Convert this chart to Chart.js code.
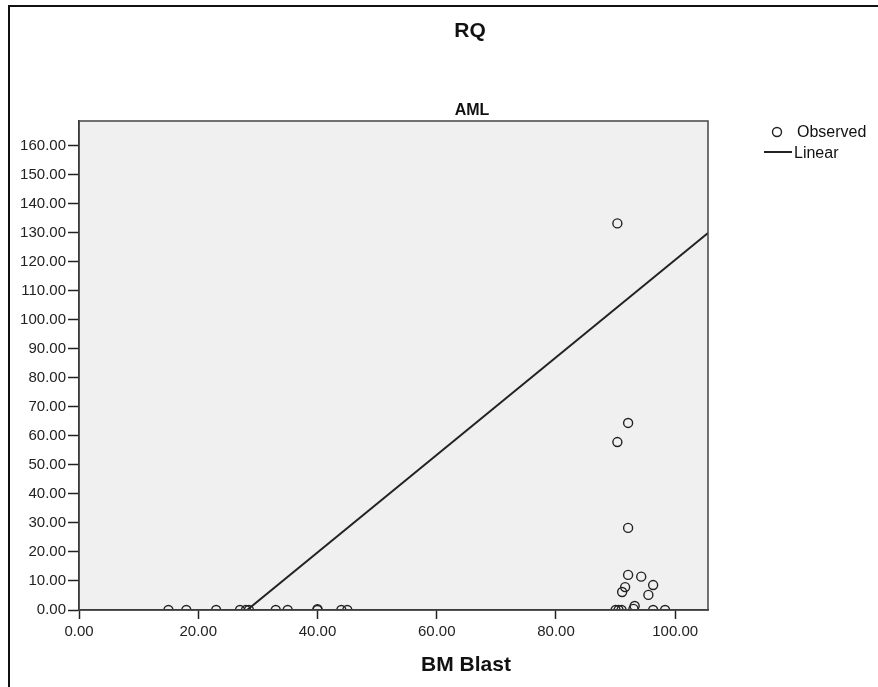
<!DOCTYPE html>
<html>
<head>
<meta charset="utf-8">
<script src="https://cdn.jsdelivr.net/npm/chart.js@4.4.1/dist/chart.umd.min.js"></script>
<style>
  html, body { margin: 0; padding: 0; background: #fff; }
  #wrap { width: 878px; height: 687px; position: relative; }
</style>
</head>
<body>
<div id="wrap"><canvas id="rq"></canvas></div>
<script>
// observed points (BM Blast vs RQ)
const observedX = [15, 18, 23, 27, 28, 28.5, 33, 35, 40, 40, 44, 45,
                   90, 90.5, 91, 93, 93.2, 96.3, 98.3,
                   90.3, 92.1, 90.3, 92.1, 92.1, 94.3, 96.3, 91.6, 91.1, 95.5];
const observedY = [0, 0, 0, 0, 0, 0, 0, 0, 0, 0.3, 0, 0,
                   0, 0, 0, 0.4, 1.4, 0, 0,
                   133.3, 64.5, 57.9, 28.3, 12.1, 11.5, 8.6, 7.9, 6.2, 5.2];
// linear fit, drawn across the visible range
const linearX = [28.2, 105.5];
const linearY = [0, 130];

const xTicks = [0, 20, 40, 60, 80, 100];
const yTicks = [0, 10, 20, 30, 40, 50, 60, 70, 80, 90, 100, 110, 120, 130, 140, 150, 160];

const FONT = "'Liberation Sans', Arial, sans-serif";
const INK = "#222";

const decor = {
  id: "decor",
  beforeDraw(chart) {
    const { ctx, chartArea: a } = chart;
    ctx.save();
    ctx.fillStyle = "#f0f0f0";
    ctx.fillRect(a.left, a.top, a.right - a.left, a.bottom - a.top);
    ctx.restore();
  },
  afterDraw(chart) {
    const { ctx, chartArea: a } = chart;
    ctx.save();
    // outer frame (top + left)
    ctx.strokeStyle = "#111";
    ctx.lineWidth = 2;
    ctx.beginPath();
    ctx.moveTo(9, 687);
    ctx.lineTo(9, 6);
    ctx.lineTo(878, 6);
    ctx.stroke();

    // plot border
    ctx.strokeStyle = "#444";
    ctx.lineWidth = 1.5;
    ctx.strokeRect(a.left, a.top, a.right - a.left, a.bottom - a.top);

    // titles
    ctx.fillStyle = "#111";
    ctx.textAlign = "center";
    ctx.textBaseline = "middle";
    ctx.font = "bold 21px " + FONT;
    ctx.fillText("RQ", 470, 31);
    ctx.font = "bold 16px " + FONT;
    ctx.fillText("AML", 472, 111);
    ctx.font = "bold 21px " + FONT;
    ctx.fillText("BM Blast", 466, 665);

    // legend
    ctx.strokeStyle = INK;
    ctx.lineWidth = 1.4;
    ctx.beginPath();
    ctx.arc(777, 132, 4.5, 0, Math.PI * 2);
    ctx.stroke();
    ctx.lineWidth = 2;
    ctx.beginPath();
    ctx.moveTo(764, 152);
    ctx.lineTo(792, 152);
    ctx.stroke();
    ctx.textAlign = "left";
    ctx.font = "16px " + FONT;
    ctx.fillText("Observed", 797, 133);
    ctx.fillText("Linear", 794, 154);
    ctx.restore();
  }
};

new Chart(document.getElementById("rq"), {
  type: "scatter",
  data: {
    datasets: [
      {
        label: "Observed",
        data: observedX.map((x, i) => ({ x, y: observedY[i] })),
        pointStyle: "circle",
        pointRadius: 4.5,
        pointBorderWidth: 1.4,
        pointBorderColor: INK,
        pointBackgroundColor: "rgba(0,0,0,0)",
        showLine: false,
        clip: 0
      },
      {
        label: "Linear",
        type: "line",
        data: linearX.map((x, i) => ({ x, y: linearY[i] })),
        borderColor: INK,
        borderWidth: 2,
        pointRadius: 0,
        fill: false
      }
    ]
  },
  options: {
    responsive: true,
    maintainAspectRatio: false,
    animation: false,
    layout: { padding: { left: 0, top: 121, right: 170, bottom: 37 } },
    plugins: { legend: { display: false }, tooltip: { enabled: false } },
    scales: {
      x: {
        type: "linear",
        min: 0,
        max: 105.5,
        afterBuildTicks: s => { s.ticks = xTicks.map(v => ({ value: v })); },
        afterFit: s => { s.height = 40; },
        grid: { drawOnChartArea: false, tickLength: 9, tickColor: INK, tickWidth: 1.5 },
        border: { color: INK, width: 1.5 },
        ticks: {
          padding: 4,
          color: "#222",
          font: { family: FONT, size: 15 },
          maxRotation: 0,
          callback: v => Number(v).toFixed(2)
        }
      },
      y: {
        type: "linear",
        min: 0,
        max: 168.6,
        afterBuildTicks: s => { s.ticks = yTicks.map(v => ({ value: v })); },
        afterFit: s => { s.width = 79; },
        grid: { drawOnChartArea: false, tickLength: 11, tickColor: INK, tickWidth: 1.5 },
        border: { color: INK, width: 1.5 },
        ticks: {
          padding: 2,
          color: "#222",
          font: { family: FONT, size: 15 },
          callback: v => Number(v).toFixed(2)
        }
      }
    }
  },
  plugins: [decor]
});
</script>
</body>
</html>
